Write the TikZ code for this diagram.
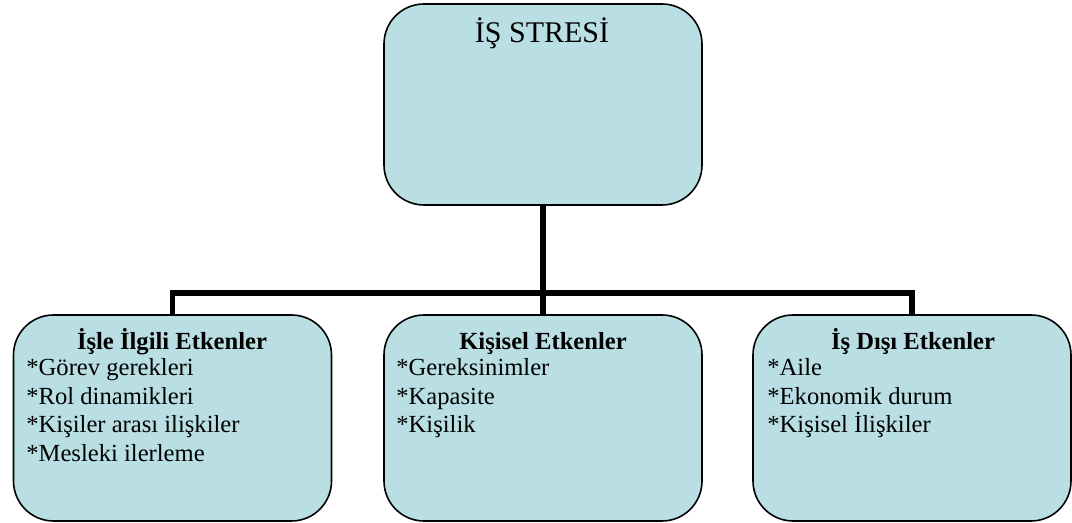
\documentclass[tikz,border=0pt]{standalone}
\usepackage{fontspec}
\setmainfont{Liberation Serif}
\usepackage{xcolor}
\definecolor{kutu}{HTML}{B9DFE4}

\tikzset{
  kutustil/.style={draw, rectangle, rounded corners=20pt, fill=kutu, line width=0.8pt, minimum width=159pt, minimum height=103pt, inner sep=0pt},
  baslik/.style={anchor=base, inner sep=0pt, font=\fontsize{12.3}{14}\selectfont\bfseries},
  madde/.style={anchor=base west, inner sep=0pt, font=\fontsize{12.3}{14}\selectfont},
  hat/.style={line width=2.6pt}
}

\begin{document}
\begin{tikzpicture}[x=0.5pt, y=-0.5pt]
  \useasboundingbox (0,0) rectangle (1072,523);

  \node[kutustil, minimum height=100.5pt] (stres) at (543,104.5) {};
  \node[kutustil] (isle) at (172.5,418) {};
  \node[kutustil] (kisi) at (543,418) {};
  \node[kutustil] (disi) at (912,418) {};

  \node[anchor=base, inner sep=0pt, font=\fontsize{15}{18}\selectfont] (stresyazi) at (542,43) {İŞ STRESİ};

  % connectors
  \coordinate (hub) at (543,293);
  \draw[hat] (stres.south) -- (kisi.north);
  \draw[hat] (isle.north) -- (isle.north |- hub) -- (disi.north |- hub) -- (disi.north);

  % left box
  \node[baslik] (isleb) at (172,350) {İşle İlgili Etkenler};
  \node[madde] (isle1) at (26,376) {*Görev gerekleri};
  \node[madde] (isle2) at (26,404.5) {*Rol dinamikleri};
  \node[madde] (isle3) at (26,433) {*Kişiler arası ilişkiler};
  \node[madde] (isle4) at (26,461.5) {*Mesleki ilerleme};

  % middle box
  \node[baslik] (kisib) at (543,350) {Kişisel Etkenler};
  \node[madde] (kisi1) at (396,376) {*Gereksinimler};
  \node[madde] (kisi2) at (396,404.5) {*Kapasite};
  \node[madde] (kisi3) at (396,433) {*Kişilik};

  % right box
  \node[baslik] (disib) at (913,350) {İş Dışı Etkenler};
  \node[madde] (disi1) at (767,376) {*Aile};
  \node[madde] (disi2) at (767,404.5) {*Ekonomik durum};
  \node[madde] (disi3) at (767,433) {*Kişisel İlişkiler};
\end{tikzpicture}
\end{document}
